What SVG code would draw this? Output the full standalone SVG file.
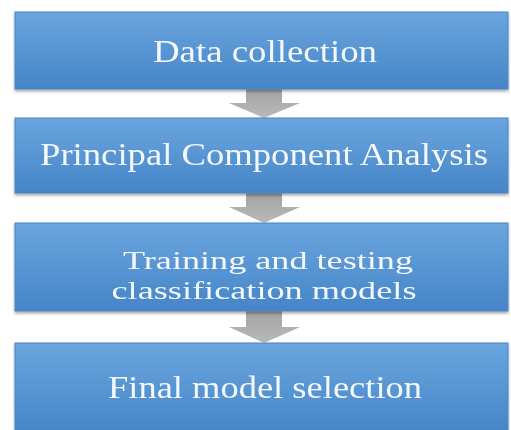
<svg xmlns="http://www.w3.org/2000/svg" width="511" height="430" viewBox="0 0 511 430">
<defs>
<linearGradient id="bg" x1="0" y1="0" x2="0" y2="1">
<stop offset="0" stop-color="#6aa5de"/>
<stop offset="1" stop-color="#4585c8"/>
</linearGradient>
<linearGradient id="ag" x1="0" y1="0" x2="0" y2="1">
<stop offset="0" stop-color="#a3a3a3"/>
<stop offset="1" stop-color="#b9b9b9"/>
</linearGradient>
<filter id="sh" x="-5%" y="-10%" width="110%" height="130%">
<feGaussianBlur in="SourceAlpha" stdDeviation="1.5"/>
<feOffset dx="0" dy="1.5" result="b"/>
<feComponentTransfer><feFuncA type="linear" slope="0.35"/></feComponentTransfer>
<feMerge><feMergeNode/><feMergeNode in="SourceGraphic"/></feMerge>
</filter>
</defs>
<style>
.box{fill:url(#bg);stroke:#4a86c2;stroke-width:1}
.arr{fill:url(#ag)}
.t{font-family:"Liberation Serif","Times New Roman",serif;font-size:32px;fill:#f4f8fc;text-anchor:middle}
.s{font-size:26px}
</style>
<rect width="511" height="430" fill="#ffffff"/>
<g id="connectors">
<path class="arr" d="M246,89 H282 V103 H300 L264,118 L229,103 H246 Z"/>
<path class="arr" d="M246,193 H282 V207 H300 L264,223 L229,207 H246 Z"/>
<path class="arr" d="M246,311 H282 V327 H300 L264,343 L229,327 H246 Z"/>
</g>
<g id="node1" filter="url(#sh)">
<rect class="box" x="15" y="12" width="493" height="77"/>
<text class="t" x="265" y="62" textLength="224" lengthAdjust="spacingAndGlyphs">Data collection</text>
</g>
<g id="node2" filter="url(#sh)">
<rect class="box" x="15" y="118" width="493" height="75"/>
<text class="t" x="264" y="165" textLength="448" lengthAdjust="spacingAndGlyphs">Principal Component Analysis</text>
</g>
<g id="node3" filter="url(#sh)">
<rect class="box" x="15" y="223" width="493" height="88"/>
<text class="t s" x="268" y="269" textLength="290" lengthAdjust="spacingAndGlyphs">Training and testing</text>
<text class="t s" x="264" y="299" textLength="305" lengthAdjust="spacingAndGlyphs">classification models</text>
</g>
<g id="node4" filter="url(#sh)">
<rect class="box" x="15" y="343" width="493" height="90"/>
<text class="t" x="265" y="398" textLength="314" lengthAdjust="spacingAndGlyphs">Final model selection</text>
</g>
</svg>
